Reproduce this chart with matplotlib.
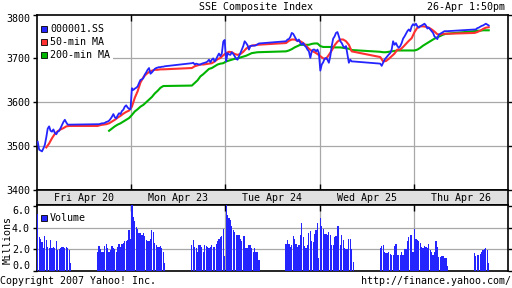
import numpy as np
import matplotlib.pyplot as plt
from matplotlib.lines import Line2D

nan = np.nan

days = ['Fri Apr 20', 'Mon Apr 23', 'Tue Apr 24', 'Wed Apr 25', 'Thu Apr 26']

# index level, 5-minute slots (24 morning + 24 afternoon per day)
price_fri = [3510, 3492, 3490, 3488, 3495, 3503, 3520, 3540, 3545, 3535, 3533, 3538,
             3530, 3527, 3533, 3535, 3541, 3548, 3555, 3560, 3554, 3549, 3549, 3549,
             3550, 3550, 3551, 3552, 3552, 3553, 3555, 3556, 3558, 3562, 3567, 3573,
             3566, 3563, 3570, 3575, 3573, 3580, 3583, 3590, 3593, 3588, 3585, 3584]
price_mon = [3632, 3628, 3631, 3633, 3636, 3644, 3651, 3652, 3655, 3663, 3668, 3674,
             3678, 3665, 3668, 3672, 3676, 3678, 3679, 3680, 3680, 3681, 3681, 3682,
             3689, 3690, 3686, 3688, 3687, 3686, 3686, 3688, 3689, 3690, 3691, 3693,
             3697, 3691, 3697, 3700, 3693, 3698, 3705, 3711, 3705, 3711, 3738, 3742]
price_tue = [3693, 3712, 3709, 3708, 3714, 3710, 3705, 3699, 3697, 3705, 3712, 3720,
             3728, 3739, 3735, 3730, 3720, 3728, 3729, 3729, 3729, 3730, 3732, 3734,
             3739, 3743, 3744, 3749, 3758, 3756, 3750, 3744, 3739, 3743, 3735, 3731,
             3735, 3729, 3726, 3720, 3716, 3701, 3716, 3720, 3720, 3716, 3720, 3712]
price_wed = [3672, 3686, 3691, 3699, 3701, 3697, 3690, 3705, 3728, 3745, 3750, 3758,
             3760, 3750, 3739, 3735, 3728, 3724, 3728, 3709, 3690, 3697, 3693, 3693,
             3688, 3683, 3690, 3697, 3701, 3705, 3709, 3712, 3720, 3739, 3731, 3735,
             3728, 3724, 3728, 3735, 3745, 3750, 3756, 3762, 3766, 3762, 3773, 3778]
price_thu = [3775, 3779, 3773, 3770, 3773, 3775, 3777, 3779, 3775, 3768, 3770, 3766,
             3762, 3758, 3750, 3747, 3744, 3754, 3756, 3758, 3760, 3762, 3762, 3762,
             3766, 3766, 3769, 3770, 3772, 3774, 3775, 3777, 3779, 3777, 3775]

# moving averages, every 10 minutes
ma50_fri = [nan, nan, nan, 3497, 3506, 3518, 3528, 3534, 3538, 3541, 3545, 3546,
            3546, 3548, 3549, 3550, 3552, 3556, 3560, 3565, 3569, 3574, 3578, 3581]
ma50_mon = [3590, 3610, 3625, 3645, 3657, 3664, 3669, 3672, 3674, 3674, 3675, 3675,
            3678, 3682, 3684, 3686, 3686, 3687, 3688, 3689, 3693, 3698, 3701, 3707]
ma50_tue = [3712, 3715, 3714, 3710, 3708, 3710, 3715, 3722, 3727, 3729, 3730, 3731,
            3735, 3740, 3743, 3743, 3740, 3739, 3735, 3729, 3722, 3717, 3714, 3710]
ma50_wed = [3705, 3700, 3699, 3708, 3718, 3730, 3738, 3743, 3743, 3739, 3731, 3716,
            3703, 3693, 3694, 3699, 3705, 3711, 3720, 3720, 3726, 3733, 3740, 3746]
ma50_thu = [3760, 3770, 3773, 3773, 3772, 3770, 3766, 3761, 3755, 3754, 3756, 3756,
            3758, 3760, 3763, 3767, 3770, 3771]

ma200_fri = [nan] * 12 + [nan, nan, nan, nan, 3535, 3540, 3545, 3549, 3552, 3556, 3560, 3564]
ma200_mon = [3571, 3579, 3584, 3590, 3594, 3600, 3606, 3612, 3620, 3626, 3633, 3637,
             3638, 3644, 3650, 3659, 3664, 3670, 3676, 3678, 3682, 3686, 3688, 3689]
ma200_tue = [3693, 3695, 3697, 3699, 3700, 3702, 3704, 3706, 3709, 3712, 3713, 3714,
             3716, 3718, 3721, 3725, 3728, 3731, 3731, 3731, 3731, 3733, 3734, 3734]
ma200_wed = [3728, 3726, 3726, 3726, 3726, 3725, 3725, 3725, 3724, 3723, 3722, 3719,
             3715, 3714, 3714, 3715, 3716, 3717, 3718, 3718, 3718, 3718, 3718, 3718]
ma200_thu = [3718, 3720, 3724, 3729, 3733, 3737, 3741, 3745, 3748, 3751, 3754, 3756,
             3762, 3763, 3763, 3764, 3764, 3764]

# volume in millions, 5-minute bars
vol_fri = [5.3, 3.1, 3.0, 2.7, 2.1, 3.2, 2.9, 2.2, 2.1, 2.9, 2.1, 2.2,
           2.1, 2.8, 1.9, 2.0, 2.1, 2.2, 2.2, 2.1, 2.2, 2.1, 1.9, 0.7,
           1.8, 2.3, 2.0, 1.8, 1.8, 2.3, 2.5, 2.1, 1.8, 1.9, 2.3, 2.1,
           2.0, 1.8, 2.2, 2.5, 2.2, 2.5, 2.6, 2.8, 2.8, 2.9, 3.8, 3.0]
vol_mon = [6.2, 5.0, 4.6, 4.1, 3.9, 3.5, 3.5, 3.3, 3.5, 3.2, 2.9, 2.8,
           2.8, 3.0, 3.8, 3.6, 2.6, 2.4, 2.2, 2.2, 2.3, 2.1, 1.8, 0.7,
           2.4, 2.9, 2.2, 2.1, 1.8, 2.4, 2.4, 2.2, 1.8, 2.4, 2.3, 2.2,
           2.1, 2.2, 2.4, 2.2, 2.2, 2.5, 2.8, 3.0, 3.1, 3.2, 3.9, 1.4]
vol_tue = [6.3, 5.2, 4.9, 4.7, 4.2, 3.8, 3.6, 3.3, 3.3, 3.3, 3.0, 2.8,
           3.2, 3.2, 2.1, 2.1, 2.4, 2.4, 2.1, 1.8, 2.1, 1.8, 1.8, 1.0,
           2.5, 2.9, 2.5, 2.2, 2.4, 3.2, 3.0, 2.5, 2.2, 2.4, 3.3, 4.4,
           3.1, 2.3, 2.1, 2.4, 3.5, 3.7, 2.8, 2.7, 3.4, 3.8, 4.4, 1.2]
vol_wed = [4.9, 4.2, 3.9, 3.4, 3.4, 3.3, 3.6, 3.3, 2.4, 2.4, 3.1, 3.2,
           4.2, 4.2, 2.4, 3.3, 2.9, 2.1, 2.0, 2.0, 3.0, 3.0, 2.0, 0.8,
           2.1, 2.3, 2.4, 1.8, 1.7, 1.7, 1.8, 1.6, 1.5, 1.5, 2.3, 2.5,
           1.5, 1.5, 1.5, 1.8, 1.5, 2.0, 2.0, 2.8, 3.1, 3.3, 3.3, 1.8]
vol_thu = [3.9, 3.0, 2.9, 2.8, 2.6, 2.2, 2.1, 2.3, 2.2, 2.1, 2.5, 1.9,
           1.8, 1.5, 1.8, 2.8, 2.2, 1.3, 1.3, 1.4, 1.4, 1.2, 1.2, 0.5,
           1.7, 1.4, 1.5, 1.5, 1.6, 1.8, 1.9, 2.0, 2.1, 1.9, 0.7]

price_days = [price_fri, price_mon, price_tue, price_wed, price_thu]
ma50_days = [ma50_fri, ma50_mon, ma50_tue, ma50_wed, ma50_thu]
ma200_days = [ma200_fri, ma200_mon, ma200_tue, ma200_wed, ma200_thu]
vol_days = [vol_fri, vol_mon, vol_tue, vol_wed, vol_thu]

DAY = 330  # minutes 9:30-15:00 incl. lunch break


def slot_x(day, n):
    # minutes since Fri 9:30, lunch 11:30-13:00 skipped by 90 min
    k = np.arange(n)
    return day * DAY + k * 5 + 2.5 + np.where(k >= 24, 90, 0)


x_p, y_p, x_v, y_v = [], [], [], []
x_m, y_50, y_200 = [], [], []
for d in range(5):
    xs = slot_x(d, 48)
    x_p += list(xs[:len(price_days[d])])
    y_p += price_days[d]
    x_v += list(xs[:len(vol_days[d])])
    y_v += vol_days[d]
    x_m += list(xs[::2][:len(ma50_days[d])])
    y_50 += ma50_days[d]
    y_200 += ma200_days[d]

blue = '#2424ff'
red = '#ff3030'
green = '#00b400'
grid = '#a8a8a8'
mono = 'DejaVu Sans Mono'
fs = 7.2

plt.rcParams['font.family'] = mono
plt.rcParams['font.size'] = fs

fig = plt.figure(figsize=(5.12, 2.88), dpi=100)


def rect(x0, y0, x1, y1):
    return [x0 / 512, 1 - y1 / 288, (x1 - x0) / 512, (y1 - y0) / 288]


ax = fig.add_axes(rect(37, 14.5, 508, 190))
band = fig.add_axes(rect(37, 190, 508, 205))
axv = fig.add_axes(rect(37, 205, 508, 271))

ax.plot(x_m, y_200, color=green, lw=1.5, zorder=3)
ax.plot(x_m, y_50, color=red, lw=1.5, zorder=4)
ax.plot(x_p, y_p, color=blue, lw=1.3, zorder=5)
ax.set_xlim(0, 5 * DAY)
ax.set_ylim(3400, 3800)

axv.bar(x_v, y_v, width=4.2, color=blue, linewidth=0, zorder=3)
axv.set_xlim(0, 5 * DAY)
axv.set_ylim(0, 6.1)

bounds = [DAY * i for i in range(1, 5)]
for a in (ax, axv):
    for b in bounds:
        a.axvline(b, color=grid, lw=0.9, zorder=1)
    a.set_xticks(bounds)
    a.set_xticklabels([])
    a.tick_params(axis='x', direction='in', length=4, width=1, top=True, bottom=True)
    a.tick_params(axis='y', direction='out', length=3, width=1, right=True, pad=2,
                  labelsize=fs)
    for s in a.spines.values():
        s.set_linewidth(1.2)

ax.set_yticks([3400, 3500, 3600, 3700, 3800])
for v in [3500, 3600, 3700]:
    ax.axhline(v, color=grid, lw=0.9, zorder=1)
ax.get_yticklabels()[-1].set_va('top')

axv.set_yticks([0, 2, 4, 6])
axv.set_yticklabels(['0.0', '2.0', '4.0', '6.0'])
for v in [2, 4]:
    axv.axhline(v, color=grid, lw=0.9, zorder=1)
axv.get_yticklabels()[-1].set_va('top')
axv.get_yticklabels()[0].set_va('bottom')
axv.tick_params(axis='x', bottom=False)

band.set_facecolor('#e0e0e0')
band.set_xlim(0, 5 * DAY)
band.set_ylim(0, 1)
band.set_xticks([])
band.set_yticks([])
for s in band.spines.values():
    s.set_linewidth(1.2)
for i, name in enumerate(days):
    band.text(DAY * (i + 0.5), 0.45, name, ha='center', va='center', fontsize=fs)

sq = dict(marker='s', linestyle='none', markersize=4.6, markeredgecolor='black',
          markeredgewidth=0.6)
handles = [Line2D([], [], markerfacecolor=blue, **sq),
           Line2D([], [], markerfacecolor=red, **sq),
           Line2D([], [], markerfacecolor=green, **sq)]
leg = ax.legend(handles, ['000001.SS', '50-min MA', '200-min MA'], loc='upper left',
                bbox_to_anchor=(37.5 / 512, 1 - 21 / 288), bbox_transform=fig.transFigure,
                frameon=True, fancybox=False, edgecolor='none', framealpha=1,
                borderpad=0.3, borderaxespad=0, handlelength=0.6,
                handletextpad=0.35, labelspacing=0.3, fontsize=fs)
leg.get_frame().set_linewidth(0)
leg.set_zorder(10)

lv = axv.legend([Line2D([], [], markerfacecolor=blue, **sq)], ['Volume'],
                loc='upper left', bbox_to_anchor=(37.5 / 512, 1 - 210 / 288),
                bbox_transform=fig.transFigure, frameon=False, borderpad=0.3,
                borderaxespad=0, handlelength=0.6, handletextpad=0.35, fontsize=fs)

fig.text(8 / 512, 1 - 240 / 288, 'Millions', rotation=90, ha='center', va='center',
         fontsize=fs)
fig.text(256 / 512, 1 - 7 / 288, 'SSE Composite Index', ha='center', va='center',
         fontsize=fs)
fig.text(505 / 512, 1 - 7 / 288, '26-Apr 1:50pm', ha='right', va='center', fontsize=fs)
fig.text(0, 1 - 281 / 288, 'Copyright 2007 Yahoo! Inc.', ha='left', va='center',
         fontsize=fs)
fig.text(511 / 512, 1 - 281 / 288, 'http://finance.yahoo.com/', ha='right',
         va='center', fontsize=fs)

fig.savefig('out.png', dpi=100)
